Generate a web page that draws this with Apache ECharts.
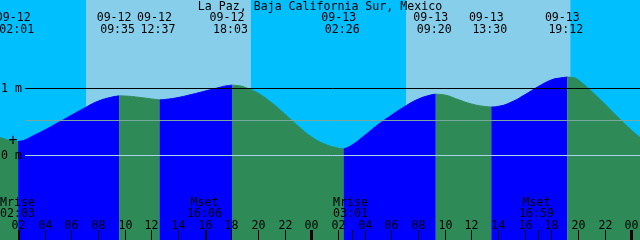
<!DOCTYPE html>
<html><head><meta charset="utf-8">
<script src="https://cdn.jsdelivr.net/npm/echarts@6/dist/echarts.min.js"></script>
<style>html,body{margin:0;padding:0;background:#00BFFF}#c{width:640px;height:240px}</style>
</head><body><div id="c"></div>
<script>
// ---- data (hours counted from 09-12 00:00) ----
const titleText = 'La Paz, Baja California Sur, Mexico';
const curveHours  = [0.65, 1, 1.5, 2.017, 2.5, 3, 4, 5, 6, 7, 8, 9, 9.583, 10, 11, 12, 12.617, 13, 14, 15, 16, 17, 17.5, 18.05, 18.6, 19, 20, 21, 22, 23, 24, 25, 26, 26.433, 27, 28, 29, 30, 31, 32, 33, 33.333, 34, 35, 36, 37, 37.5, 38, 39, 40, 41, 42, 42.6, 43.2, 43.7, 44, 45, 46, 47, 48, 48.65];
const curveLevels = [0.27, 0.245, 0.22, 0.21, 0.23, 0.28, 0.38, 0.49, 0.60, 0.71, 0.81, 0.87, 0.89, 0.888, 0.87, 0.845, 0.83, 0.835, 0.865, 0.91, 0.96, 1.01, 1.035, 1.05, 1.04, 1.02, 0.93, 0.79, 0.62, 0.44, 0.28, 0.17, 0.11, 0.10, 0.15, 0.30, 0.46, 0.60, 0.73, 0.84, 0.905, 0.915, 0.903, 0.835, 0.77, 0.732, 0.725, 0.733, 0.797, 0.905, 1.026, 1.128, 1.155, 1.17, 1.16, 1.13, 0.96, 0.77, 0.57, 0.38, 0.27];
const tideHours  = [2.017, 9.583, 12.617, 18.05, 26.433, 33.333, 37.5, 43.2];
const tideLevels = [0.21, 0.89, 0.83, 1.05, 0.10, 0.915, 0.725, 1.17];
const tideDates  = ['09-12', '09-12', '09-12', '09-12', '09-13', '09-13', '09-13', '09-13'];
const tideTimes  = ['02:01', '09:35', '12:37', '18:03', '02:26', '09:20', '13:30', '19:12'];
const moonHours = [2.05, 16.1, 27.017, 40.983];
const moonKinds = ['Mrise', 'Mset', 'Mrise', 'Mset'];
const moonTimes = ['02:03', '16:06', '03:01', '16:59'];
const dayStarts = [7.1, 31.1];
const dayEnds   = [19.467, 43.433];
const tickHours  = [2, 4, 6, 8, 10, 12, 14, 16, 18, 20, 22, 24, 26, 28, 30, 32, 34, 36, 38, 40, 42, 44, 46, 48];
const tickLabels = ['02', '04', '06', '08', '10', '12', '14', '16', '18', '20', '22', '00', '02', '04', '06', '08', '10', '12', '14', '16', '18', '20', '22', '00'];
const levelMarks  = [1, 0];
const levelLabels = ['1 m', '0 m'];
const mslLevel = 0.522;
const plusMark = [1.62, 0.213];
const xStart = 0.65, xEnd = 48.65;

// ---- build ----
const FONT = '"DejaVu Sans Mono", "Liberation Mono", monospace';
const FS = 11.6;
const chart = echarts.init(document.getElementById('c'), null, {renderer: 'canvas'});
const H = 240;
const yMin = (155.5 - H) / 67, yMax = 155.5 / 67;

const bounds = [xStart].concat(tideHours, [xEnd]);
const segSeries = [];
for (let i = 0; i < bounds.length - 1; i++) {
  const a = bounds[i], b = bounds[i + 1];
  const pts = [];
  curveHours.forEach((h, k) => { if (h >= a - 1e-6 && h <= b + 1e-6) pts.push([h, curveLevels[k]]); });
  const rising = pts[pts.length - 1][1] > pts[0][1];
  const col = rising ? '#0000FF' : '#2E8B57';
  segSeries.push({
    type: 'line', data: pts, smooth: 0.5, showSymbol: false, z: 2,
    lineStyle: {width: 1, color: col}, areaStyle: {color: col, opacity: 1, origin: 'start'},
    silent: true
  });
}

function txt(text, x, y, align) {
  return {type: 'text', style: {text: text, x: x, y: y, align: align || 'center', verticalAlign: 'middle',
    fontSize: FS, fontFamily: FONT, fill: '#000'}};
}

const option = {
  animation: false,
  backgroundColor: '#00BFFF',
  grid: {left: 0, right: 0, top: 0, bottom: 0},
  xAxis: {type: 'value', min: xStart, max: xEnd, show: false},
  yAxis: {type: 'value', min: yMin, max: yMax, show: false},
  series: [
    {
      type: 'line', data: [], z: 0, silent: true,
      markArea: {silent: true, itemStyle: {color: '#87CEEB', opacity: 1},
        data: dayStarts.map((s, i) => [{xAxis: s}, {xAxis: dayEnds[i]}])},
      markLine: {silent: true, symbol: 'none', label: {show: false},
        lineStyle: {color: '#000', width: 1, type: 'solid'},
        data: [[{coord: [2.525, levelMarks[0]]}, {coord: [xEnd, levelMarks[0]]}]]}
    },
    ...segSeries,
    {
      type: 'line', data: [], z: 3, silent: true,
      markLine: {silent: true, symbol: 'none', label: {show: false},
        data: [
          [{coord: [2.525, mslLevel], lineStyle: {color: '#78A8A0', width: 1, type: 'solid'}}, {coord: [xEnd, mslLevel]}],
          [{coord: [2.525, levelMarks[1]], lineStyle: {color: '#A8D8E8', width: 1, type: 'solid'}}, {coord: [xEnd, levelMarks[1]]}]
        ]}
    },
    { // hour ticks + labels
      type: 'custom', z: 5, clip: false, silent: true,
      data: tickHours.map((h, i) => [h, i]),
      renderItem: function (params, api) {
        const h = api.value(0), i = api.value(1);
        const x = Math.round(api.coord([h, 0])[0]);
        const thick = (h % 24 === 0);
        return {type: 'group', children: [
          {type: 'rect', shape: {x: thick ? x - 1 : x, y: 230, width: thick ? 3 : 1, height: 10}, style: {fill: '#000'}},
          txt(tickLabels[i], x + 0.5, 226)
        ]};
      }
    },
    { // moon events
      type: 'custom', z: 5, clip: false, silent: true,
      data: moonHours.map((h, i) => [h, i]),
      renderItem: function (params, api) {
        const h = api.value(0), i = api.value(1);
        const x = Math.round(api.coord([h, 0])[0]);
        return {type: 'group', children: [
          {type: 'rect', shape: {x: x, y: 230, width: 1, height: 10}, style: {fill: '#000'}},
          txt(moonKinds[i], x - 1.5, 202.5),
          txt(moonTimes[i], x - 1.5, 214)
        ]};
      }
    },
    { // tide event labels
      type: 'custom', z: 5, clip: false, silent: true,
      data: tideHours.map((h, i) => [h, tideLevels[i], i]),
      renderItem: function (params, api) {
        const h = api.value(0), i = api.value(2);
        const x = api.coord([h, 0])[0];
        return {type: 'group', children: [
          txt(tideDates[i], x - 5, 17.8),
          txt(tideTimes[i], x - 1.5, 30.2)
        ]};
      }
    },
    { // level labels
      type: 'custom', z: 5, clip: false, silent: true,
      data: levelMarks.map((v, i) => [xStart, v, i]),
      renderItem: function (params, api) {
        const y = api.coord([xStart, api.value(1)])[1];
        return txt(levelLabels[api.value(2)], 1, y, 'left');
      }
    },
    { // plus marker
      type: 'custom', z: 5, clip: false, silent: true,
      data: [plusMark],
      renderItem: function (params, api) {
        const p = api.coord([api.value(0), api.value(1)]);
        return {type: 'text', style: {text: '+', x: p[0], y: p[1], align: 'center', verticalAlign: 'middle',
          fontSize: 15, fontFamily: FONT, fill: '#000'}};
      }
    }
  ],
  graphic: [
    {type: 'text', left: 'center', top: 1, z: 10, style: {text: titleText, fontSize: FS, fontFamily: FONT, fill: '#000'}}
  ]
};
chart.setOption(option);
</script>
</body></html>
